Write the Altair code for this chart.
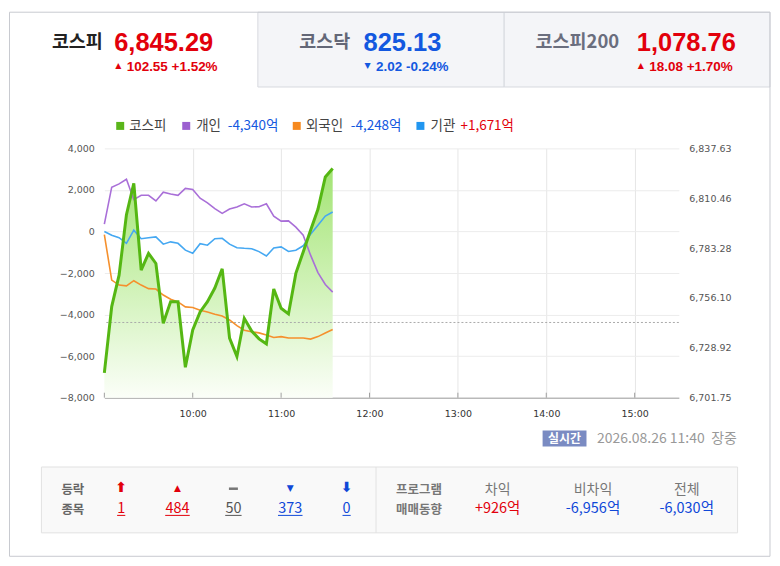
import altair as alt
import pandas as pd

# ---------------- data ----------------
TIMES = ["09:00", "09:05", "09:10", "09:15", "09:20", "09:25", "09:30", "09:35",
         "09:40", "09:45", "09:50", "09:55", "10:00", "10:05", "10:10", "10:15",
         "10:20", "10:25", "10:30", "10:35", "10:40", "10:45", "10:50", "10:55",
         "11:00", "11:05", "11:10", "11:15", "11:20", "11:25", "11:30", "11:35"]
KOSPI = [6715.3, 6751.4, 6768.5, 6801.5, 6818.6, 6771.3, 6780.4, 6774.9,
         6742.3, 6754.1, 6754.1, 6718.3, 6738.7, 6748.5, 6754.1, 6761.5,
         6772.0, 6734.2, 6724.2, 6745.0, 6738.1, 6733.8, 6731.1, 6761.0,
         6750.5, 6747.4, 6769.5, 6781.2, 6793.0, 6804.4, 6822.0, 6826.6]
RETAIL = [350, 2130, 2290, 2510, 1530, 1740, 1740, 1470, 1890, 1800, 1740, 2070,
          2020, 1600, 1380, 1100, 870, 1080, 1180, 1330, 1180, 1190, 1330, 740,
          500, 510, 210, -180, -1140, -1980, -2550, -2920]
FOREIGN = [-150, -2340, -2580, -2620, -2370, -2580, -2750, -2770, -3060, -3260,
           -3390, -3630, -3660, -3790, -3880, -3980, -4070, -4260, -4530, -4750,
           -4830, -4880, -4980, -5100, -5060, -5130, -5130, -5130, -5180, -5060,
           -4890, -4720]
INST = [0, -180, -300, -570, 60, -350, -300, -260, -610, -500, -570, -900, -1050,
        -590, -660, -350, -330, -610, -780, -810, -830, -970, -1180, -790, -740,
        -960, -900, -690, -130, 300, 740, 940]
SERIES = ["개인", "외국인", "기관"]
PREV_CLOSE = 6742.74
KOSPI_TICKS = [6701.75, 6728.92, 6756.10, 6783.28, 6810.46, 6837.63]
FLOW_TICKS = [-8000, -6000, -4000, -2000, 0, 2000, 4000]
HOUR_LABELS = ["10:00", "11:00", "12:00", "13:00", "14:00", "15:00"]
SESSION = ["09:00", "15:30"]

HEADER_NAMES = ["코스피", "코스닥", "코스피200"]
HEADER_VALUES = ["6,845.29", "825.13", "1,078.76"]
HEADER_CHANGES = ["102.55 +1.52%", "2.02 -0.24%", "18.08 +1.70%"]
HEADER_DIR = ["up", "down", "up"]
LEGEND_NAMES = ["코스피", "개인", "외국인", "기관"]
LEGEND_AMOUNTS = ["", "-4,340억", "-4,248억", "+1,671억"]
BADGE = "실시간"
TIMESTAMP = "2026.08.26 11:40"
STATUS = "장중"
BREADTH_HEAD = ["등락", "종목"]
BREADTH_SYMBOLS = ["⬆", "▲", "", "▼", "⬇"]
BREADTH_COUNTS = ["1", "484", "50", "373", "0"]
PROGRAM_HEAD = ["프로그램", "매매동향"]
PROGRAM_LABELS = ["차익", "비차익", "전체"]
PROGRAM_VALUES = ["+926억", "-6,956억", "-6,030억"]


def to_min(s):
    h, m = s.split(":")
    return (int(h) - 9) * 60 + int(m)


# ---------------- layout / style ----------------
OX, OY = 104.6, 148.0          # plot origin on the page
PW, PH = 576, 250              # plot size
SVG_W, SVG_H = 766, 550
KFONT = "Noto Sans CJK KR"
NFONT = "Liberation Sans"
AFONT = "DejaVu Sans"
RED = "#e2000b"
BLUE = "#1358e0"
BLUE2 = "#0f48d8"
C_KOSPI = "#55b713"
C_LINES = ["#a96fd8", "#f5902d", "#45a8f2"]
C_LEGEND = ["#5ab51a", "#9c60d0", "#f6891f", "#2196f0"]

ONE = alt.Data(values=[{"k": 0}])


def txt(s, x, y, size, color, weight="normal", align="left", font=KFONT):
    return alt.Chart(ONE).mark_text(
        text=s, align=align, baseline="middle", fontSize=size,
        fontWeight=weight, font=font, color=color
    ).encode(x=alt.value(x - OX), y=alt.value(y - OY))


def box(x1, y1, x2, y2, fill, stroke=None, fill_opacity=1.0):
    kw = dict(fill=fill, fillOpacity=fill_opacity)
    if stroke:
        kw.update(stroke=stroke, strokeWidth=1)
    return alt.Chart(ONE).mark_rect(**kw).encode(
        x=alt.value(x1 - OX), x2=alt.value(x2 - OX),
        y=alt.value(y1 - OY), y2=alt.value(y2 - OY))


def hline(x1, x2, y, color, w=1.0):
    return alt.Chart(ONE).mark_rule(color=color, strokeWidth=w).encode(
        x=alt.value(x1 - OX), x2=alt.value(x2 - OX), y=alt.value(y - OY))


def vline(x, y1, y2, color):
    return alt.Chart(ONE).mark_rule(color=color, strokeWidth=1).encode(
        x=alt.value(x - OX), y=alt.value(y1 - OY), y2=alt.value(y2 - OY))


def square(x, y, color):
    return alt.Chart(ONE).mark_square(size=64, color=color, filled=True, opacity=1).encode(
        x=alt.value(x - OX), y=alt.value(y - OY))


# ---------------- tables ----------------
mins = [to_min(t) for t in TIMES]
kdf = pd.DataFrame({"t": mins, "kospi": KOSPI})
rows = []
for name, vals in zip(SERIES, [RETAIL, FOREIGN, INST]):
    for t, v in zip(mins, vals):
        rows.append({"t": t, "s": name, "v": v})
ldf = pd.DataFrame(rows)
tick_df = pd.DataFrame({"t": [0] + [to_min(h) for h in HOUR_LABELS]})

xscale = alt.Scale(domain=[to_min(SESSION[0]), to_min(SESSION[1])], nice=False, zero=False)
xaxis = alt.Axis(values=[to_min(h) for h in HOUR_LABELS],
                 labelExpr="floor(datum.value / 60) + 9 + ':00'",
                 grid=True, gridColor="#e6e6e6", domain=True, domainColor="#a0a0a0",
                 ticks=False, labelPadding=11, labelFont=AFONT, labelFontSize=9.5,
                 labelColor="#333333", title=None)
X = alt.X("t:Q", scale=xscale, axis=xaxis)
kscale = alt.Scale(domain=[KOSPI_TICKS[0], KOSPI_TICKS[-1]], nice=False, zero=False)

gradient = alt.Gradient(
    gradient="linear",
    stops=[alt.GradientStop(color="#a3e474", offset=0),
           alt.GradientStop(color="#d3f3bc", offset=0.55),
           alt.GradientStop(color="#fbfef8", offset=1)],
    x1=1, x2=1, y1=0, y2=1)

area = alt.Chart(kdf).mark_area(color=gradient).encode(
    x=X,
    y=alt.Y("kospi:Q", scale=kscale, axis=None),
    y2=alt.datum(KOSPI_TICKS[0]))

inv = alt.Chart(ldf).mark_line(strokeWidth=1.6).encode(
    x=X,
    y=alt.Y("v:Q", scale=alt.Scale(domain=[FLOW_TICKS[0], FLOW_TICKS[-1]], nice=False, zero=False),
            axis=alt.Axis(values=FLOW_TICKS, format=",d", orient="left", grid=True,
                          gridColor="#ececec", domain=False, ticks=False, labelPadding=10,
                          labelFont=AFONT, labelFontSize=9.5, labelColor="#555555", title=None)),
    color=alt.Color("s:N", scale=alt.Scale(domain=SERIES, range=C_LINES), legend=None))

kline = alt.Chart(kdf).mark_line(strokeWidth=3, color=C_KOSPI).encode(
    x=X,
    y=alt.Y("kospi:Q", scale=kscale,
            axis=alt.Axis(values=KOSPI_TICKS, format=",.2f", orient="right", grid=False,
                          domain=False, ticks=False, labelPadding=10, labelFont=AFONT,
                          labelFontSize=9.5, labelColor="#555555", title=None)))

prev = alt.Chart(ONE).mark_rule(color="#aaaaaa", strokeDash=[2, 2], strokeWidth=1).encode(
    y=alt.YDatum(PREV_CLOSE, scale=kscale, axis=None))

ticks = alt.Chart(tick_df).mark_rule(color="#a0a0a0").encode(
    x=X, y=alt.value(PH - 5), y2=alt.value(PH))

# ---------------- decorations ----------------
bg = [
    box(258.5, 11.5, 505.5, 86.5, "#f4f5f8", "#d7d9df"),
    box(505.5, 11.5, 772, 86.5, "#f4f5f8", "#d7d9df"),
    box(41.5, 467.5, 739.5, 533.5, "#f9f9f9", "#e2e2e2"),
    vline(377, 467.5, 533.5, "#e2e2e2"),
    box(544, 431, 588, 447, "#7a8bc2"),
    box(9.5, 11.5, 772, 557, "#ffffff", "#c8cad0", 0.0),
]

fg = []
# header tabs
name_x = [52, 300, 537]
name_col = ["#222222", "#636777", "#6a6e7e"]
val_x = [114.5, 364.5, 638.5]
for i in range(3):
    col = RED if HEADER_DIR[i] == "up" else BLUE
    fg.append(txt(HEADER_NAMES[i], name_x[i], 41, 18.5, name_col[i], "bold"))
    fg.append(txt(HEADER_VALUES[i], val_x[i], 42, 25.5, col, "bold", font=NFONT))
    fg.append(txt("▲" if HEADER_DIR[i] == "up" else "▼", val_x[i] + 4, 65.5, 8, col,
                  align="center", font=AFONT))
    fg.append(txt(HEADER_CHANGES[i], val_x[i] + 12.5, 66, 13.5, col, "bold", font=NFONT))

# legend
sq_x = [120.5, 186.7, 297.5, 421.5]
name_lx = [129.5, 196.7, 306.7, 431.7]
amt_lx = [None, 228.3, 351.7, 461.7]
for i in range(4):
    fg.append(square(sq_x[i], 125.5, C_LEGEND[i]))
    fg.append(txt(LEGEND_NAMES[i], name_lx[i], 125.5, 13.5, "#444444"))
    if LEGEND_AMOUNTS[i]:
        col = RED if LEGEND_AMOUNTS[i].startswith("+") else BLUE
        fg.append(txt(LEGEND_AMOUNTS[i], amt_lx[i], 125.5, 13.5, col))

# realtime stamp
fg.append(txt(BADGE, 566, 439, 12, "#ffffff", "bold", align="center"))
fg.append(txt(TIMESTAMP, 598.5, 439.5, 14, "#999999"))
fg.append(txt(STATUS, 713, 439.5, 14, "#999999"))

# market breadth box
fg.append(txt(BREADTH_HEAD[0], 73, 490.5, 12.5, "#666666", "bold", align="center"))
fg.append(txt(BREADTH_HEAD[1], 73, 510.5, 12.5, "#666666", "bold", align="center"))
bx = [121.5, 177.9, 234, 291, 347.5]
bcol = [RED, RED, "#555555", BLUE2, BLUE2]
bsize = [14, 9, 9, 9, 14]
for i in range(5):
    if BREADTH_SYMBOLS[i]:
        fg.append(txt(BREADTH_SYMBOLS[i], bx[i], 489, bsize[i], bcol[i], "bold",
                      align="center", font=AFONT))
    else:
        fg.append(box(bx[i] - 4.5, 488, bx[i] + 4.5, 490.5, "#777777"))
    fg.append(txt(BREADTH_COUNTS[i], bx[i], 509.5, 14.5, bcol[i], align="center"))
    w = len(BREADTH_COUNTS[i]) * 8.2
    fg.append(hline(bx[i] - w / 2, bx[i] + w / 2, 516, bcol[i]))

fg.append(txt(PROGRAM_HEAD[0], 420, 490.5, 12.5, "#777777", "bold", align="center"))
fg.append(txt(PROGRAM_HEAD[1], 420, 510.5, 12.5, "#777777", "bold", align="center"))
px = [499, 594.5, 688.5]
for i in range(3):
    col = RED if PROGRAM_VALUES[i].startswith("+") else BLUE2
    fg.append(txt(PROGRAM_LABELS[i], px[i], 490.5, 14, "#777777", align="center"))
    fg.append(txt(PROGRAM_VALUES[i], px[i], 510, 14.5, col, align="center"))

chart = alt.layer(*bg, area, prev, inv, kline, ticks, *fg).resolve_scale(
    y="independent"
).properties(
    width=PW, height=PH,
    padding={"left": OX - 8, "top": OY - 8,
             "right": SVG_W - (OX - 8) - PW, "bottom": SVG_H - (OY - 8) - PH},
    autosize=alt.AutoSizeParams(type="none"),
    background="white",
).configure_view(stroke=None)

chart.save("out.html", embed_options={"renderer": "svg", "actions": False})
